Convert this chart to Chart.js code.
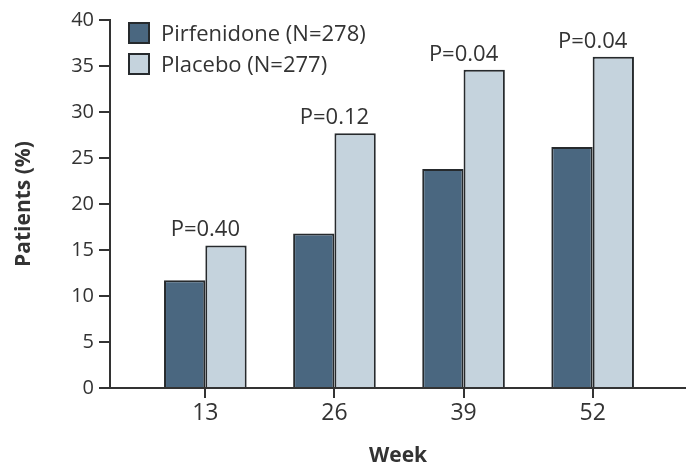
<!DOCTYPE html>
<html lang="en">
<head>
  <meta charset="UTF-8">
  <script src="https://cdn.jsdelivr.net/npm/chart.js"></script>
  <style>
    html, body {
      margin: 0;
      padding: 0;
      background: #fff;
    }
    .wrap {
      width: 686px;
      height: 467px;
    }
  </style>
</head>
<body>
  <div class="wrap">
    <canvas id="chart" width="686" height="467"></canvas>
  </div>

  <script>
    // values
    const weeks = [13, 26, 39, 52];
    const pirfenidone = [11.7, 16.8, 23.8, 26.2];
    const placebo = [15.5, 27.7, 34.6, 36.0];
    const pValues = ['P=0.40', 'P=0.12', 'P=0.04', 'P=0.04'];
    const seriesNames = ['Pirfenidone (N=278)', 'Placebo (N=277)'];
    const yTicks = [0, 5, 10, 15, 20, 25, 30, 35, 40];

    const FONT = "'Open Sans', 'Noto Sans', sans-serif";
    const INK = '#333';
    const EDGE = '#262a2d';

    // legend + P-value labels drawn on top of the chart
    const annotations = {
      id: 'annotations',
      afterDraw(chart) {
        const ctx = chart.ctx;
        const x = chart.scales.x;
        const y = chart.scales.y;
        ctx.save();

        // P values above each pair
        ctx.font = '22px ' + FONT;
        ctx.fillStyle = INK;
        ctx.textAlign = 'center';
        ctx.textBaseline = 'alphabetic';
        weeks.forEach((w, i) => {
          const top = Math.max(pirfenidone[i], placebo[i]);
          ctx.fillText(pValues[i], x.getPixelForValue(w), y.getPixelForValue(top) - 9);
        });

        // legend
        const left = chart.chartArea.left + 19;
        chart.data.datasets.forEach((ds, i) => {
          const rowTop = 23 + i * 31;
          ctx.fillStyle = ds.backgroundColor;
          ctx.fillRect(left, rowTop, 20, 20);
          ctx.strokeStyle = EDGE;
          ctx.lineWidth = 2;
          ctx.strokeRect(left, rowTop, 20, 20);
          ctx.fillStyle = INK;
          ctx.textAlign = 'left';
          ctx.fillText(ds.label, left + 32, rowTop + 18);
        });
        ctx.restore();
      }
    };

    new Chart(document.getElementById('chart'), {
      type: 'bar',
      data: {
        datasets: [
          {
            label: seriesNames[0],
            data: weeks.map((w, i) => ({ x: w, y: pirfenidone[i] })),
            backgroundColor: '#4a6780',
            borderColor: EDGE,
            borderWidth: 2
          },
          {
            label: seriesNames[1],
            data: weeks.map((w, i) => ({ x: w, y: placebo[i] })),
            backgroundColor: '#c5d3dd',
            borderColor: EDGE,
            borderWidth: 2
          }
        ]
      },
      plugins: [annotations],
      options: {
        responsive: false,
        animation: false,
        layout: { padding: { top: 20, left: 0, right: 0, bottom: 0 } },
        datasets: {
          bar: { categoryPercentage: 0.64, barPercentage: 1.0 }
        },
        plugins: {
          legend: { display: false },
          tooltip: { enabled: false }
        },
        scales: {
          x: {
            type: 'linear',
            offset: false,
            min: 3.4,
            max: 61.4,
            afterBuildTicks: scale => {
              scale.ticks = weeks.map(v => ({ value: v }));
            },
            afterFit: scale => { scale.height = 79; },
            ticks: {
              color: INK,
              font: { family: FONT, size: 23 },
              padding: 2,
              maxRotation: 0
            },
            grid: {
              display: true,
              offset: false,
              drawOnChartArea: false,
              drawTicks: true,
              tickLength: 10,
              color: INK,
              lineWidth: 2
            },
            border: { display: true, color: INK, width: 2 },
            title: {
              display: true,
              text: 'Week',
              color: INK,
              font: { family: FONT, size: 21, weight: 'bold', lineHeight: 1 },
              padding: { top: 0, bottom: 0 }
            }
          },
          y: {
            min: 0,
            max: 40,
            afterBuildTicks: scale => {
              scale.ticks = yTicks.map(v => ({ value: v }));
            },
            afterFit: scale => { scale.width = 110; },
            ticks: {
              color: INK,
              font: { family: FONT, size: 20 },
              padding: 5
            },
            grid: {
              display: true,
              drawOnChartArea: false,
              drawTicks: true,
              tickLength: 11,
              color: INK,
              lineWidth: 2
            },
            border: { display: true, color: INK, width: 2 },
            title: {
              display: true,
              text: 'Patients (%)',
              color: INK,
              font: { family: FONT, size: 21, weight: 'bold', lineHeight: 1 },
              padding: { top: 14, bottom: 0 }
            }
          }
        }
      }
    });
  </script>
</body>
</html>
